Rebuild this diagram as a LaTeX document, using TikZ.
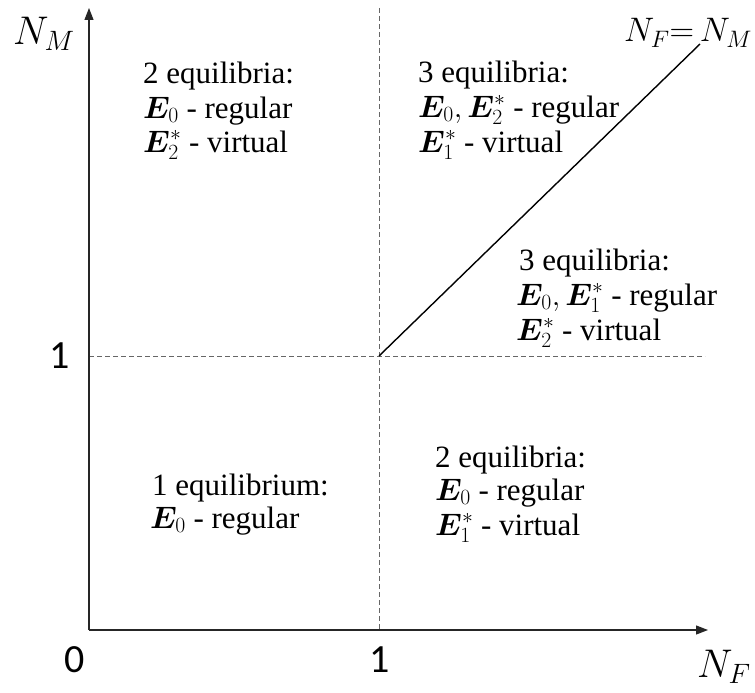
\RequirePackage{fix-cm}
\documentclass[tikz,border=0pt]{standalone}
\usepackage{fontspec}
\setmainfont{Liberation Serif}
\newfontfamily\regionfont{Liberation Serif}
\newfontfamily\axisfont{Carlito}
\usepackage{bm}
\usetikzlibrary{arrows.meta}
\tikzset{
  axisline/.style={line width=1.2pt, draw=black!85, -{Triangle[length=12pt,width=9pt]}},
  guide/.style={draw=black!60, line width=0.9pt, dash pattern=on 5pt off 3pt},
  diag/.style={draw=black, line width=1.4pt},
  regiontext/.style={font=\regionfont\fontsize{31}{35}\selectfont, anchor=base west, inner sep=0pt, text height=21pt, text depth=6pt},
  ticklabel/.style={font=\axisfont\fontsize{40}{44}\selectfont, anchor=center, inner sep=0pt},
  axislabel/.style={font=\fontsize{40}{44}\selectfont, anchor=base west, inner sep=0pt}
}
\begin{document}
\begin{tikzpicture}[x=1pt,y=-1pt]
\useasboundingbox (0,0) rectangle (755,693);
% key points
\coordinate (O) at (89,630);
\coordinate (Ytip) at (89,8);
\coordinate (Xtip) at (708,630);
\coordinate (Vtop) at (379,8);
\coordinate (Vbot) at (379,630);
\coordinate (Hleft) at (89,356);
\coordinate (Hright) at (705,356);
\coordinate (P) at (379,356);
\coordinate (Q) at (700,44);
% guides
\draw[guide] (Vtop) -- (Vbot);
\draw[guide] (Hleft) -- (Hright);
% diagonal
\draw[diag] (P) -- (Q);
% axes
\draw[axisline] (O) -- (Ytip);
\draw[axisline] (O) -- (Xtip);
% axis labels
\node[axislabel] (nm) at (13,45) {$N_M$};
\node[axislabel, font=\fontsize{34}{38}\selectfont] (eq) at (624,42) {$N_F{=}\,N_M$};
\node[axislabel] (nf) at (697,677) {$N_F$};
\node[ticklabel] (zero) at (75,660) {0};
\node[ticklabel] (onex) at (380,660) {1};
\node[ticklabel] (oney) at (60,356) {1};
% top-left region
\node[regiontext] (tl1) at (143,83) {2 equilibria:};
\node[regiontext] (tl2) at (143,118) {$\bm{E}_0$ - regular};
\node[regiontext] (tl3) at (143,152) {$\bm{E}_2^*$ - virtual};
% top-right region
\node[regiontext] (tr1) at (418,82) {3 equilibria:};
\node[regiontext] (tr2) at (418,117) {$\bm{E}_0, \bm{E}_2^*$ - regular};
\node[regiontext] (tr3) at (418,152) {$\bm{E}_1^*$ - virtual};
% middle-right region
\node[regiontext] (mr1) at (519,270) {3 equilibria:};
\node[regiontext] (mr2) at (516,305) {$\bm{E}_0, \bm{E}_1^*$ - regular};
\node[regiontext] (mr3) at (516,340) {$\bm{E}_2^*$ - virtual};
% bottom-left region
\node[regiontext] (bl1) at (152,495) {1 equilibrium:};
\node[regiontext] (bl2) at (150,528) {$\bm{E}_0$ - regular};
% bottom-right region
\node[regiontext] (br1) at (435,467) {2 equilibria:};
\node[regiontext] (br2) at (435,500) {$\bm{E}_0$ - regular};
\node[regiontext] (br3) at (435,535) {$\bm{E}_1^*$ - virtual};
\end{tikzpicture}
\end{document}
